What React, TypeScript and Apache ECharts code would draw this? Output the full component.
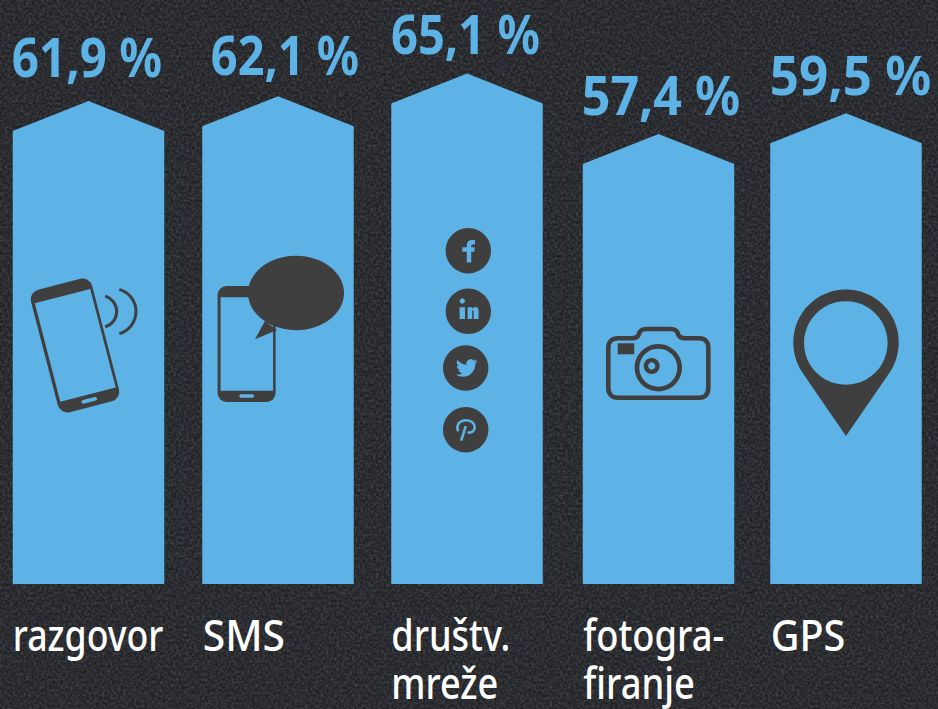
import React, { useEffect, useRef } from "react";
import * as echarts from "echarts";

const categories = ["razgovor", "SMS", "društv.\nmreže", "fotogra-\nfiranje", "GPS"];
const values = [61.9, 62.1, 65.1, 57.4, 59.5];
const valueLabels = ["61,9 %", "62,1 %", "65,1 %", "57,4 %", "59,5 %"];

const BLUE = "#5EB3E6";
const DARK = "#3F3F40";
const BG = "#222327";
const W = 938;
const H = 709;

// small per-column corrections, in pixels
const barNudge = [0, 0, -0.5, 1.5, -0.5];
const tipNudge = [2.5, -0.7, 0, 0.2, -4];
const labelCenterDx = [-1.5, 7, -2, 4, 4];
const labelAboveTip = [24.4, 21, 20, 20, 19];
const labelScale = [0.897, 0.885, 0.89, 0.945, 0.963];
const catLeftDx = [0, 0.5, 0, 0.5, 0.5];
const catScale = [0.83, 0.947, 0.84, 0.845, 0.92];

const noise =
  "data:image/svg+xml;utf8," +
  encodeURIComponent(
    `<svg xmlns="http://www.w3.org/2000/svg" width="${W}" height="${H}"><filter id="n"><feTurbulence type="fractalNoise" baseFrequency="0.38" numOctaves="3" seed="7"/><feColorMatrix values="0 0 0 0 0.8 0 0 0 0 0.8 0 0 0 0 0.88 0.32 0 0 0 -0.11"/></filter><rect width="100%" height="100%" filter="url(#n)"/></svg>`
  );

const F_PATH =
  "M-1.5,11.7V1H-6V-3.5H-1.5V-5C-1.5,-9 0.5,-10.7 4,-10.7H6.7V-6.3H4.5C3.2,-6.3 2.9,-5.8 2.9,-4.7V-3.5H6.5L6,1H2.9V11.7Z";
const IN_PATH =
  "M-8.7,-4H-3.3V7.7H-8.7ZM-0.7,7.7V-4H4V-2.3C4.9,-3.7 6,-4.4 7.2,-4.4C9.5,-4.4 10.3,-2.7 10.3,-0.2V7.7H5.4V0.7C5.4,-0.4 5,-0.9 4.2,-0.9C3.4,-0.9 3.9,-0.4 3.9,0.7V7.7Z";
const BIRD_PATH =
  "M23.953 4.57a10 10 0 0 1-2.825.775 4.958 4.958 0 0 0 2.163-2.723c-.951.555-2.005.959-3.127 1.184a4.92 4.92 0 0 0-8.384 4.482C7.69 8.095 4.067 6.13 1.64 3.162a4.822 4.822 0 0 0-.666 2.475c0 1.71.87 3.213 2.188 4.096a4.904 4.904 0 0 1-2.228-.616v.06a4.923 4.923 0 0 0 3.946 4.827 4.996 4.996 0 0 1-2.212.085 4.936 4.936 0 0 0 4.604 3.417 9.867 9.867 0 0 1-6.102 2.105c-.39 0-.779-.023-1.17-.067a13.995 13.995 0 0 0 7.557 2.209c9.053 0 13.998-7.496 13.998-13.985 0-.21 0-.42-.015-.63A9.935 9.935 0 0 0 24 4.59z";
const PIN_P_PATH =
  "M-7.5,1.5C-10,-5 -6,-9.5 0.5,-9.5C6,-9.5 9,-6 9,-2.5C9,1.5 5.5,3.8 1.8,2.5M0,-3.5L-4.5,11";
const CAMERA_PATH =
  "M618,338.3H632C636,338.3 638,337 639,334C640,330.5 642,329 646,329H671C675,329 677,330.5 678,334C679,337 681,338.3 685,338.3H699C705,338.3 708.3,342 708.3,348V388C708.3,394 705,397.7 699,397.7H618C612,397.7 608.3,394 608.3,388V348C608.3,342 612,338.3 618,338.3Z";
const PIN_PATH =
  "M846,436L802,372C796,363 793.3,352 793.3,342C793.3,313 817,289.5 846,289.5C875,289.5 898.7,313 898.7,342C898.7,352 896,363 890,372Z";

function reg(name: string, d: string) {
  echarts.graphic.registerShape(name, echarts.graphic.extendPath(d, {}));
}
reg("icoF", F_PATH);
reg("icoIn", IN_PATH);
reg("icoBird", BIRD_PATH);
reg("icoP", PIN_P_PATH);
reg("icoCam", CAMERA_PATH);
reg("icoPin", PIN_PATH);

function phone(cx: number, cy: number, rotation: number, scale: number) {
  return {
    type: "group",
    x: cx,
    y: cy,
    rotation,
    scaleX: scale,
    scaleY: scale,
    children: [
      { type: "rect", z: 10, shape: { x: -29, y: -58, width: 58, height: 116, r: 9 }, style: { fill: DARK } },
      { type: "rect", z: 10, shape: { x: -26, y: -46.7, width: 52.5, height: 93.4 }, style: { fill: BLUE } },
      { type: "rect", z: 10, shape: { x: -7.3, y: 50.3, width: 14.7, height: 3.4, r: 1.7 }, style: { fill: BLUE } },
    ],
  };
}

const circ = (cx: number, cy: number, r: number, fill: string) => ({
  type: "circle",
  shape: { cx, cy, r },
  style: { fill },
});

function icons() {
  const socialA = [468.3, 250.7];
  const socialB = [468.3, 311.3];
  const socialC = [465.7, 368];
  const socialD = [465.7, 429.7];
  const list: any[] = [
    phone(75, 345.5, 0.253, 1.09),
    { type: "arc", shape: { cx: 100.7, cy: 311.5, r: 16, startAngle: -1.29, endAngle: 1.29, clockwise: true }, style: { stroke: DARK, lineWidth: 3, fill: "none" } },
    { type: "arc", shape: { cx: 113, cy: 311.5, r: 23, startAngle: -1.29, endAngle: 1.29, clockwise: true }, style: { stroke: DARK, lineWidth: 3, fill: "none" } },

    phone(246.6, 344, 0, 1),
    { type: "polygon", shape: { points: [[265, 321], [255, 339.3], [277, 330]] }, style: { fill: DARK } },
    { type: "ellipse", shape: { cx: 296, cy: 293, rx: 48, ry: 37.2 }, style: { fill: DARK } },

    circ(socialA[0], socialA[1], 22.7, DARK),
    { type: "icoF", x: socialA[0], y: socialA[1], style: { fill: BLUE } },
    circ(socialB[0], socialB[1], 22.7, DARK),
    circ(socialB[0] - 6, socialB[1] - 10.3, 2.7, BLUE),
    { type: "icoIn", x: socialB[0], y: socialB[1], style: { fill: BLUE } },
    circ(socialC[0], socialC[1], 22.7, DARK),
    { type: "icoBird", x: socialC[0] - 9.8, y: socialC[1] - 10.8, scaleX: 0.9, scaleY: 0.9, style: { fill: BLUE } },
    circ(socialD[0], socialD[1], 22.7, DARK),
    { type: "icoP", x: socialD[0], y: socialD[1], style: { fill: "none", stroke: BLUE, lineWidth: 2.6 } },

    { type: "icoCam", style: { fill: "none", stroke: DARK, lineWidth: 4.6 } },
    { type: "rect", shape: { x: 617.7, y: 343.3, width: 16.6, height: 11 }, style: { fill: DARK } },
    { type: "ring", shape: { cx: 658.3, cy: 367.7, r: 23.7, r0: 19 }, style: { fill: DARK } },
    { type: "ring", shape: { cx: 651.7, cy: 366, r: 8, r0: 3.6 }, style: { fill: DARK } },

    { type: "icoPin", style: { fill: DARK } },
    circ(845.8, 343, 41.8, BLUE),
  ];
  return list.map((e) => ({ ...e, z: 10 }));
}

export default function App() {
  const ref = useRef<HTMLDivElement>(null);
  useEffect(() => {
    const chart = echarts.init(ref.current!, null, { renderer: "svg" });
    chart.setOption({
      animation: false,
      backgroundColor: "transparent",
      grid: { left: -6.25, width: 947.5, top: 35, height: 549, outerBoundsMode: "none" },
      xAxis: {
        type: "category",
        data: categories,
        axisLine: { show: false },
        axisTick: { show: false },
        axisLabel: { show: false },
      },
      yAxis: { type: "value", min: 0, max: 70, show: false, splitLine: { show: false } },
      series: [
        {
          type: "custom",
          data: values.map((v, i) => [i, v]),
          clip: false,
          renderItem(params: any, api: any) {
            const i = params.dataIndex;
            const v = api.value(1);
            const tip = api.coord([api.value(0), v]);
            const base = api.coord([api.value(0), 0]);
            const half = 75.75;
            const cx = tip[0] + barNudge[i];
            const tipY = tip[1] + tipNudge[i];
            const shoulder = tipY + 30;
            return {
              type: "group",
              children: [
                {
                  type: "polygon",
                  shape: {
                    points: [
                      [cx - half, base[1]],
                      [cx - half, shoulder],
                      [cx, tipY],
                      [cx + half, shoulder],
                      [cx + half, base[1]],
                    ],
                  },
                  style: { fill: BLUE },
                },
                {
                  type: "text",
                  x: tip[0] + labelCenterDx[i],
                  y: tipY - labelAboveTip[i] + 6.5,
                  scaleX: labelScale[i],
                  style: {
                    text: valueLabels[i],
                    fill: BLUE,
                    fontFamily: "'Noto Sans'",
                    fontWeight: 700,
                    fontSize: 53,
                    align: "center",
                    verticalAlign: "bottom",
                  },
                },
                {
                  type: "text",
                  x: cx - half + catLeftDx[i],
                  y: base[1] + 26,
                  scaleX: catScale[i],
                  style: {
                    text: categories[i],
                    fill: "#FFFFFF",
                    fontFamily: "'Noto Sans'",
                    fontWeight: 500,
                    fontSize: 43,
                    lineHeight: 48.5,
                    align: "left",
                    verticalAlign: "top",
                  },
                },
              ],
            };
          },
          encode: { x: 0, y: 1 },
        },
      ],
      graphic: { elements: icons() },
    });
    return () => chart.dispose();
  }, []);
  return (
    <div
      style={{
        position: "fixed",
        left: 0,
        top: 0,
        width: W,
        height: H,
        backgroundColor: BG,
        backgroundImage: `url("${noise}")`,
      }}
    >
      <div ref={ref} style={{ width: W, height: H }} />
    </div>
  );
}
